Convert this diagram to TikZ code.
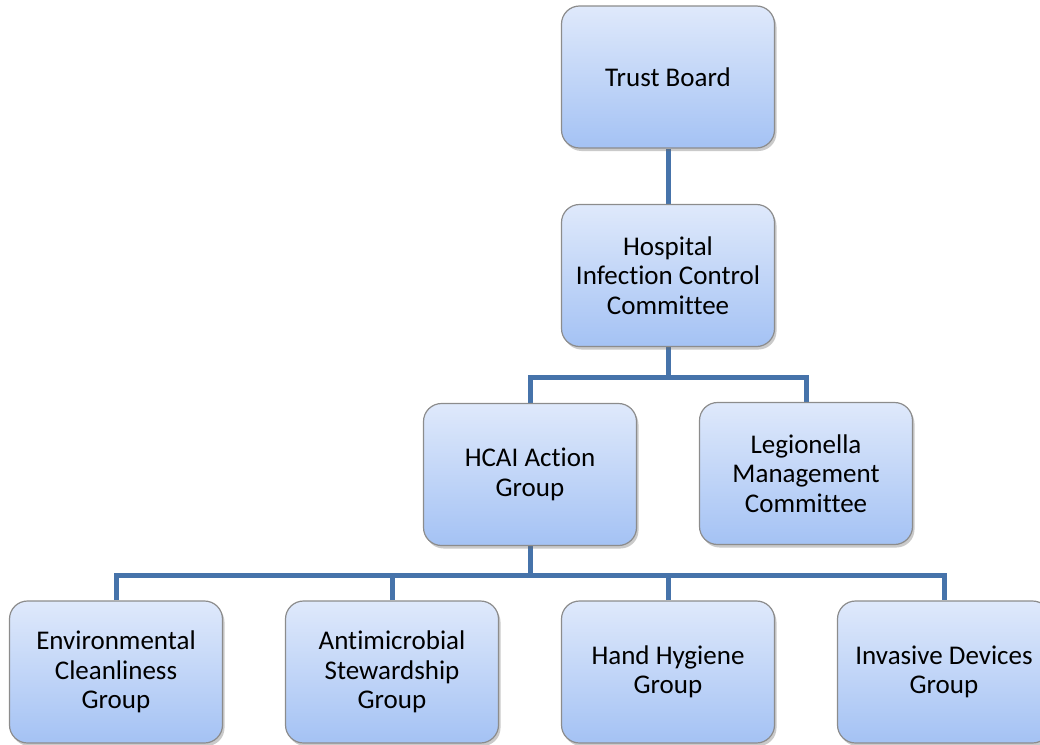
\documentclass[tikz,border=0pt]{standalone}
\usepackage{fontspec}
\setmainfont{Carlito}[Ligatures=NoCommon]
\usetikzlibrary{shadows,backgrounds,calc}
\definecolor{boxtop}{HTML}{DFE9FB}
\definecolor{boxbot}{HTML}{A4C2F4}
\definecolor{boxline}{HTML}{8C8C8C}
\definecolor{conn}{HTML}{4673AA}
\tikzset{
  orgbox/.style={rectangle, rounded corners=18pt, draw=boxline, line width=1.2pt,
    top color=boxtop, bottom color=boxbot, minimum width=213pt, minimum height=142pt,
    align=center, font=\fontsize{27}{29.5}\selectfont, text=black, inner sep=2pt,
    drop shadow={shadow xshift=2pt, shadow yshift=-3pt, opacity=0.35, fill=black!60}},
  link/.style={draw=conn, line width=5pt, line join=miter}
}
\begin{document}
\begin{tikzpicture}[x=1pt,y=-1pt]
\useasboundingbox (0,0) rectangle (1040,744);
\node[orgbox] (trust) at (668,77) {Trust Board};
\node[orgbox] (hicc) at (668,275.5) {Hospital\\Infection Control\\Committee};
\node[orgbox] (hcai) at (530,474.5) {HCAI Action\\Group};
\node[orgbox] (leg) at (806,473.5) {Legionella\\Management\\Committee};
\node[orgbox] (env) at (116,672) {Environmental\\Cleanliness\\Group};
\node[orgbox] (anti) at (392,672) {Antimicrobial\\Stewardship\\Group};
\node[orgbox] (hand) at (668,672) {Hand Hygiene\\Group};
\node[orgbox] (inv) at (944,672) {Invasive Devices\\Group};
\begin{scope}[on background layer]
\draw[link] (trust.south) -- (hicc.north);
\coordinate (b1) at ($(hicc.south)+(0,30)$);
\draw[link] (hicc.south) -- (b1);
\draw[link] (hcai.north) |- (b1) -| (leg.north);
\coordinate (b2) at ($(hcai.south)+(0,29)$);
\draw[link] (hcai.south) -- (b2);
\draw[link] (env.north) |- (b2) -| (inv.north);
\draw[link] (anti.north) -- (anti.north |- b2);
\draw[link] (hand.north) -- (hand.north |- b2);
\end{scope}
\end{tikzpicture}
\end{document}
